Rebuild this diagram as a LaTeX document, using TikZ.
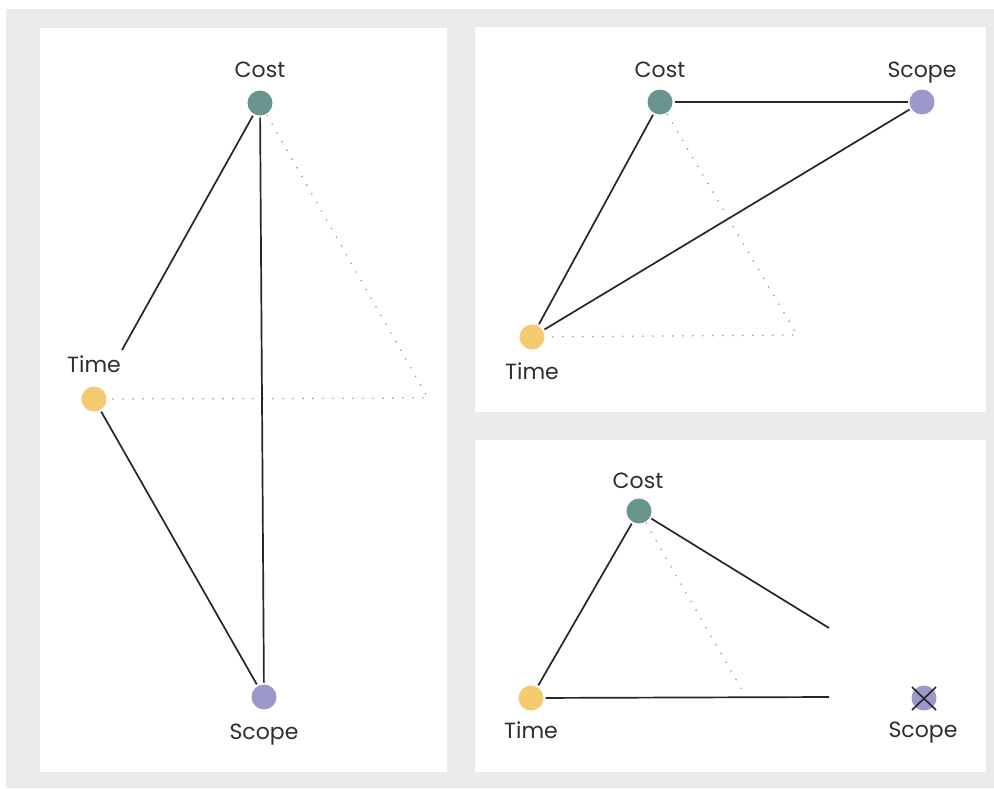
\documentclass[tikz,border=0pt]{standalone}
\usepackage{fontspec}
\setmainfont{Poppins}
\usetikzlibrary{calc}
\definecolor{bgcol}{HTML}{EBEBEB}
\definecolor{costcol}{HTML}{6A958F}
\definecolor{timecol}{HTML}{F5CB72}
\definecolor{scopecol}{HTML}{9B98CC}
\definecolor{linecol}{HTML}{262626}
\definecolor{dotcol}{HTML}{9C9C9C}
\definecolor{labelcol}{HTML}{2E2E2E}
\begin{document}
\begin{tikzpicture}[x=1pt,y=-1pt,
  nodedot/.style={circle,inner sep=0pt,minimum size=25pt,outer sep=2pt},
  costn/.style={nodedot,fill=costcol},
  timen/.style={nodedot,fill=timecol},
  scopen/.style={nodedot,fill=scopecol},
  lbl/.style={font=\fontsize{22}{26}\selectfont,text=labelcol,anchor=base,inner sep=0pt},
  edgeline/.style={draw=linecol,line width=1.7pt},
  dotline/.style={draw=dotcol,line width=1.8pt,line cap=round,dash pattern=on 0pt off 10pt},
  xline/.style={draw=linecol,line width=1.6pt}]
\useasboundingbox (0,0) rectangle (994,788);
\fill[bgcol] (6,9) rectangle (994,788);
\fill[white] (40,28) rectangle (447,772);
\fill[white] (475,27) rectangle (986,412);
\fill[white] (475,440) rectangle (986,772);

% left panel
\node[costn] (Lc) at (260,103) {};
\node[timen] (Lt) at (94,399) {};
\node[scopen] (Ls) at (264,697) {};
\coordinate (Lcorner) at (428,398);
\coordinate (Lcut) at (122,350);
\draw[dotline] (Lc) -- (Lcorner) -- (Lt);
\draw[edgeline] (Lc) -- (Lcut);
\draw[edgeline] (Lt) -- (Ls);
\draw[edgeline] (Lc) -- (Ls);
\node[lbl] (LcL) at (260,77) {Cost};
\node[lbl] (LtL) at (94,372) {Time};
\node[lbl] (LsL) at (264,739) {Scope};

% top right panel
\node[costn] (Tc) at (660,102) {};
\node[scopen] (Ts) at (922,102) {};
\node[timen] (Tt) at (532,337) {};
\coordinate (Tcorner) at (797,335);
\draw[dotline] (Tc) -- (Tcorner) -- (Tt);
\draw[edgeline] (Tc) -- (Ts);
\draw[edgeline] (Tc) -- (Tt);
\draw[edgeline] (Ts) -- (Tt);
\node[lbl] (TcL) at (660,77) {Cost};
\node[lbl] (TsL) at (922,77) {Scope};
\node[lbl] (TtL) at (532,379) {Time};

% bottom right panel
\node[costn] (Bc) at (639,511) {};
\node[timen] (Bt) at (531,698) {};
\node[scopen] (Bs) at (924,698) {};
\coordinate (Bend1) at (829,628);
\coordinate (Bend2) at (829,697);
\coordinate (Bdot) at (742,690);
\draw[dotline] (Bc) -- (Bdot);
\draw[edgeline] (Bc) -- (Bt);
\draw[edgeline] (Bc) -- (Bend1);
\draw[edgeline] (Bt) -- (Bend2);
\draw[xline] ($(Bs.center)+(-12,-11)$) -- ($(Bs.center)+(12,12)$);
\draw[xline] ($(Bs.center)+(12,-11)$) -- ($(Bs.center)+(-12,12)$);
\node[lbl] (BcL) at (638,488) {Cost};
\node[lbl] (BtL) at (531,738) {Time};
\node[lbl] (BsL) at (923,737) {Scope};
\end{tikzpicture}
\end{document}
